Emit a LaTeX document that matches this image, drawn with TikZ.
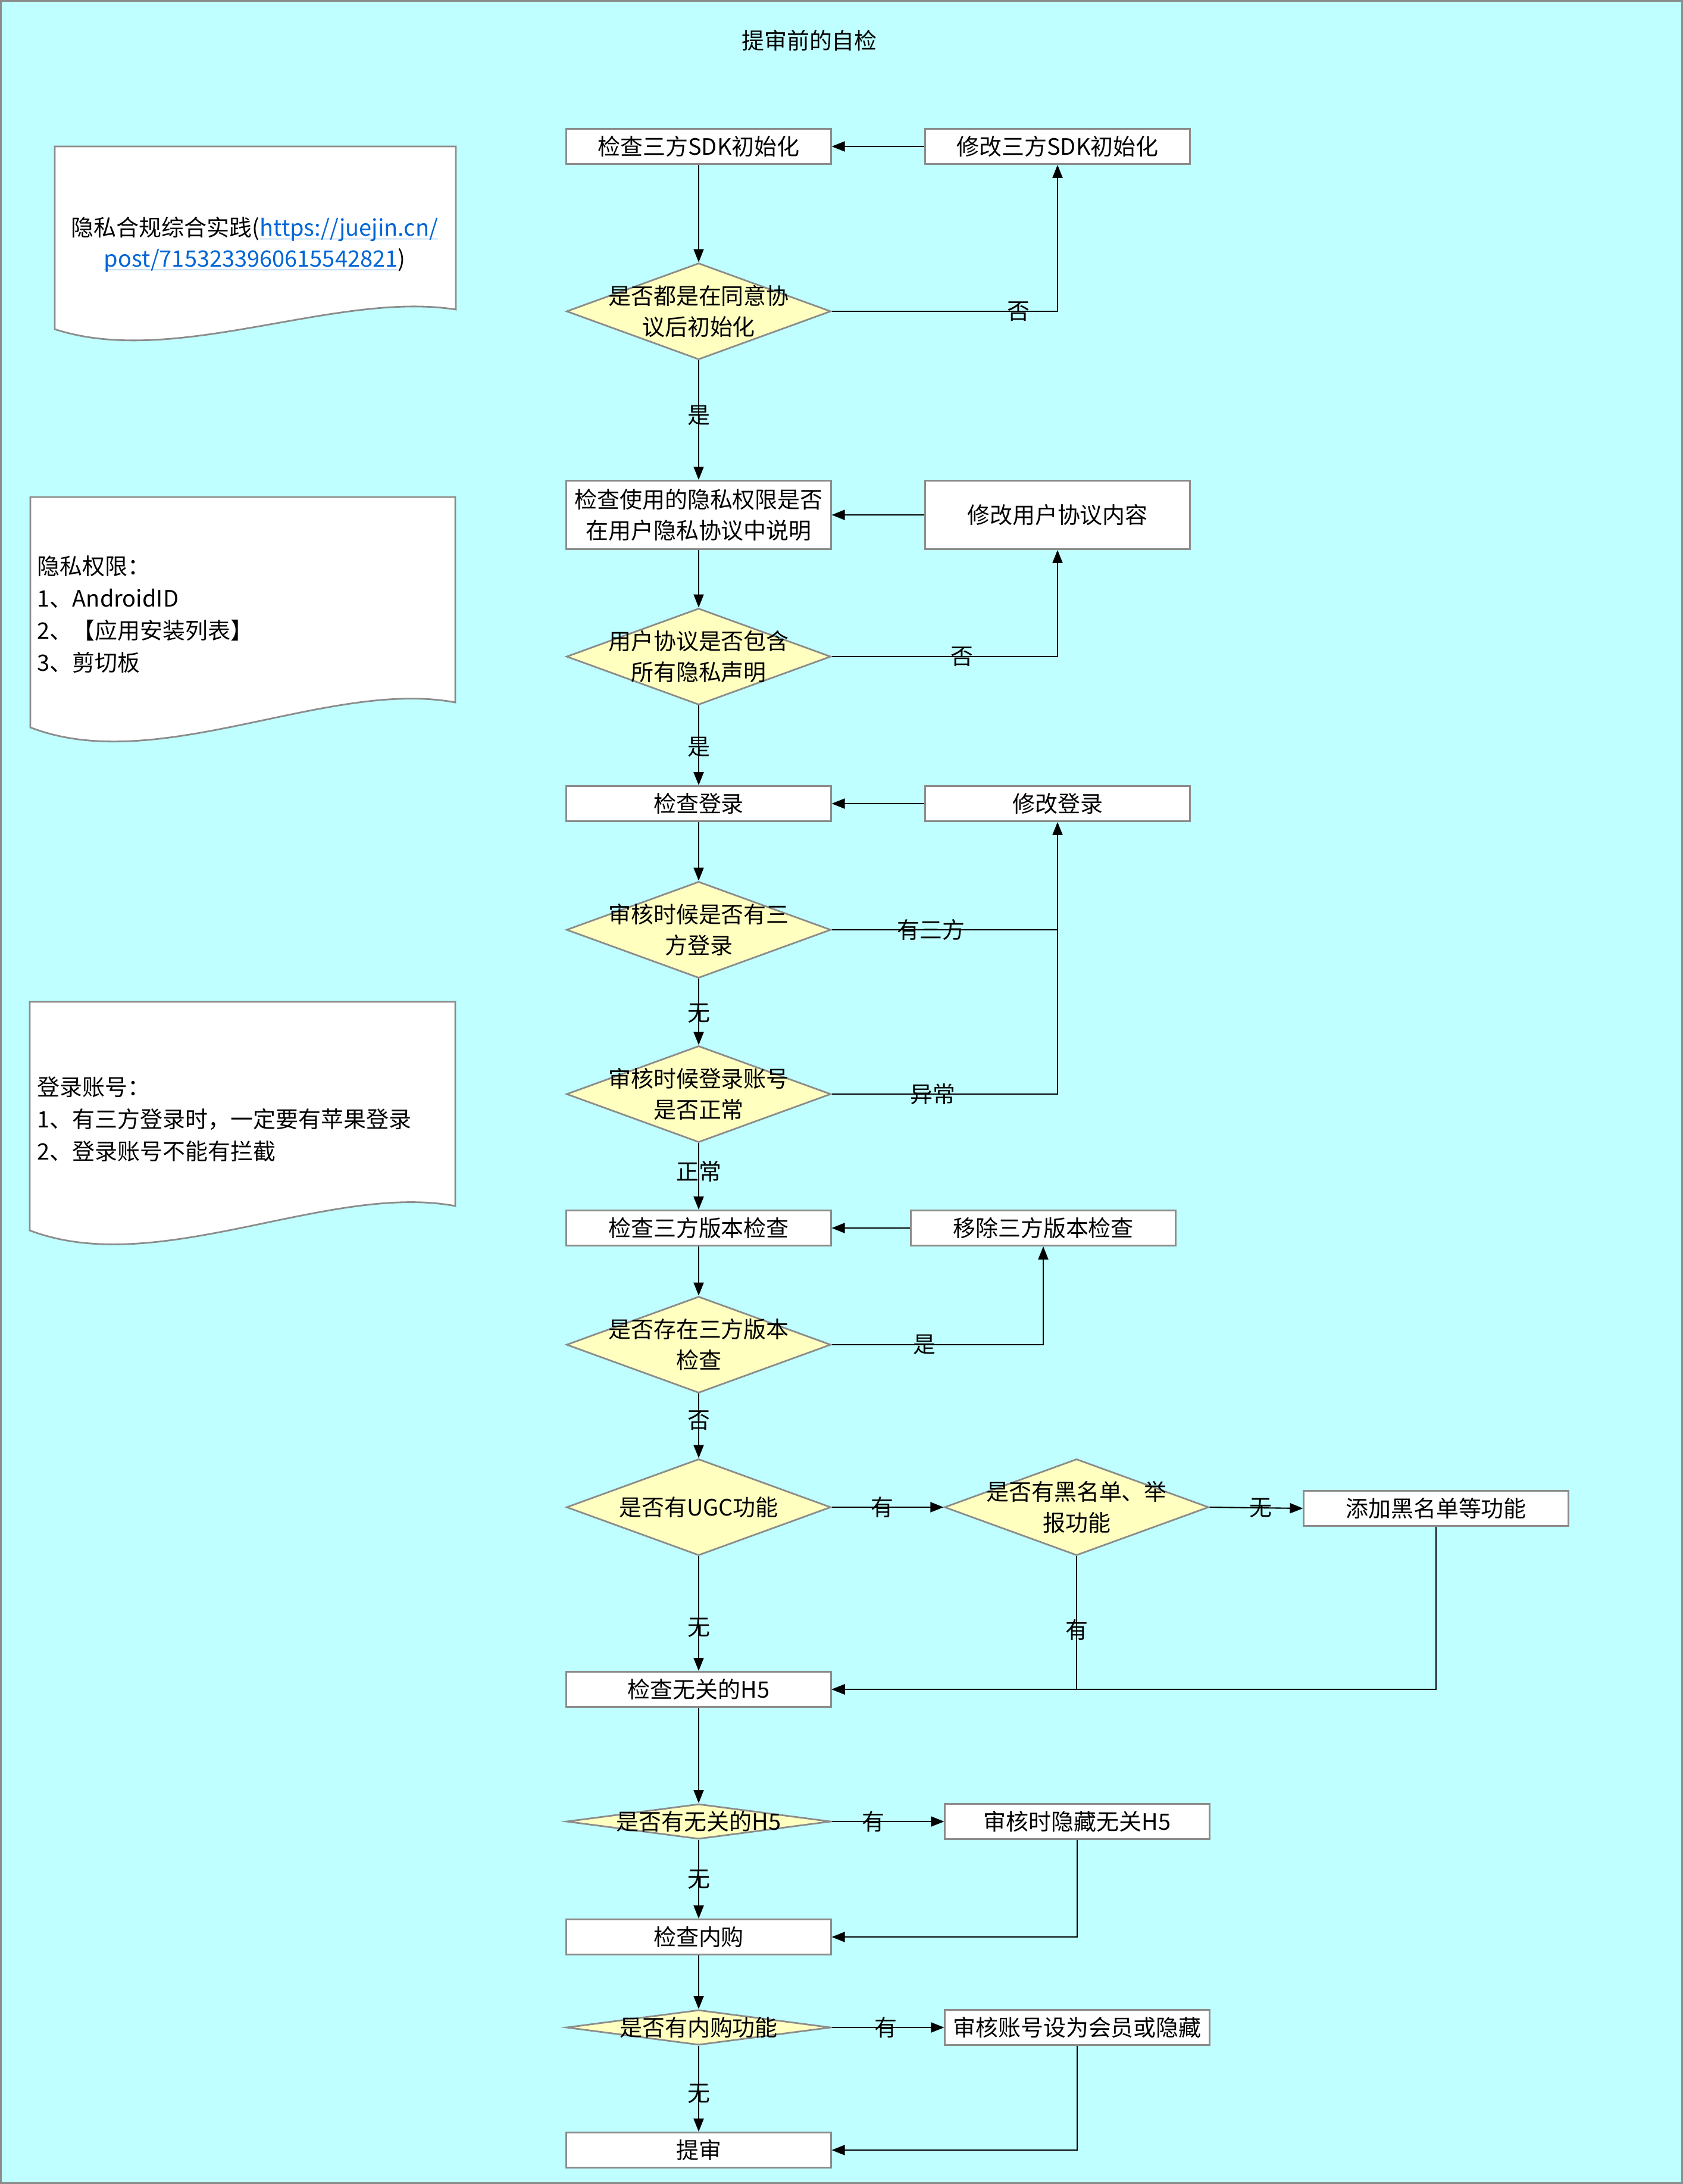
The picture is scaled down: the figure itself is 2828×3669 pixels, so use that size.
\documentclass[tikz,border=0pt]{standalone}
\usepackage{fontspec}
\setmainfont{Noto Sans CJK SC}
\usetikzlibrary{arrows.meta,shapes.geometric}
\definecolor{bgc}{HTML}{C0FFFF}
\definecolor{decc}{HTML}{FFFFC0}
\definecolor{bordc}{HTML}{8C8C8C}
\definecolor{linkc}{RGB}{0,102,214}
\newcommand\dfont{\fontsize{10.8pt}{14.8pt}\selectfont}
\newcommand\linktext[1]{\textcolor{linkc}{\underline{\smash{#1}}}}
\begin{document}
\begin{tikzpicture}[x=0.01cm,y=-0.01cm,
 every node/.style={font=\dfont, inner sep=0pt},
 proc/.style={rectangle, draw=bordc, fill=white, line width=0.8pt, minimum width=4.44cm, minimum height=0.59cm, align=center},
 dec/.style={diamond, draw=bordc, fill=decc, line width=0.8pt, minimum width=4.44cm, minimum height=1.62cm},
 flatdec/.style={dec, minimum height=0.59cm},
 txt/.style={align=center},
 arr/.style={line width=0.6pt, -{Triangle[length=0.22cm,width=0.17cm]}},
 lin/.style={line width=0.6pt},
 notebox/.style={draw=bordc, fill=white, line width=0.8pt}]
\useasboundingbox (0,0) rectangle (2828,3669);
\fill[bgc] (0,0) rectangle (2828,3669);
\draw[bordc, line width=0.03cm] (1.5,1.5) rectangle (2826.5,3667.5);

% title
\node (title) at (1360,68) {提审前的自检};

% notes
\draw[notebox] (92,246) -- (766,246) -- (766,520) .. controls (564,488) and (294,619) .. (92,553) -- cycle;
\node[txt] (n1) at (428,410) {隐私合规综合实践(\linktext{https://juejin.cn/}\\\linktext{post/7153233960615542821})};

\draw[notebox] (51,835) -- (765,835) -- (765,1180) .. controls (551,1140) and (265,1305) .. (51,1222) -- cycle;
\node[align=left, anchor=west, font=\fontsize{10.8pt}{15.3pt}\selectfont] (n2) at (62,1032) {隐私权限：\\1、AndroidID\\2、【应用安装列表】\\3、剪切板};

\draw[notebox] (50,1683) -- (765,1683) -- (765,2026) .. controls (551,1986) and (265,2149) .. (50,2067) -- cycle;
\node[align=left, anchor=west, font=\fontsize{10.8pt}{15.3pt}\selectfont] (n3) at (62,1880) {登录账号：\\1、有三方登录时，一定要有苹果登录\\2、登录账号不能有拦截};

% main column
\node[proc] (b1) at (1174,246) {检查三方SDK初始化};
\node[proc] (r1) at (1777,246) {修改三方SDK初始化};
\node[dec] (d1) at (1174,523) {};
\node[txt] (d1t) at (d1) {是否都是在同意协\\议后初始化};

\node[proc, minimum height=1.15cm] (b2) at (1174,865) {检查使用的隐私权限是否\\在用户隐私协议中说明};
\node[proc, minimum height=1.15cm] (r2) at (1777,865) {修改用户协议内容};
\node[dec] (d2) at (1174,1103) {};
\node[txt] (d2t) at (d2) {用户协议是否包含\\所有隐私声明};

\node[proc] (b3) at (1174,1350) {检查登录};
\node[proc] (r3) at (1777,1350) {修改登录};
\node[dec] (d3) at (1174,1562) {};
\node[txt] (d3t) at (d3) {审核时候是否有三\\方登录};
\node[dec] (d4) at (1174,1838) {};
\node[txt] (d4t) at (d4) {审核时候登录账号\\是否正常};

\node[proc] (b4) at (1174,2063) {检查三方版本检查};
\node[proc] (r4) at (1753,2063) {移除三方版本检查};
\node[dec] (d5) at (1174,2259) {};
\node[txt] (d5t) at (d5) {是否存在三方版本\\检查};

\node[dec] (d6) at (1174,2532) {};
\node[txt] (d6t) at (d6) {是否有UGC功能};
\node[dec] (d7) at (1809,2532) {};
\node[txt] (d7t) at (d7) {是否有黑名单、举\\报功能};
\node[proc] (r5) at (2413,2534) {添加黑名单等功能};

\node[proc] (b5) at (1174,2838) {检查无关的H5};
\node[flatdec] (d8) at (1174,3060) {};
\node[txt] (d8t) at (d8) {是否有无关的H5};
\node[proc] (r6) at (1810,3060) {审核时隐藏无关H5};

\node[proc] (b6) at (1174,3254) {检查内购};
\node[flatdec] (d9) at (1174,3406) {};
\node[txt] (d9t) at (d9) {是否有内购功能};
\node[proc] (r7) at (1810,3406) {审核账号设为会员或隐藏};

\node[proc] (b7) at (1174,3612) {提审};

% connectors
\draw[arr] (r1.west) -- (b1.east);
\draw[arr] (b1.south) -- (d1.north);
\draw[arr] (d1.east) -| node[pos=0.414] (e1) {否} (r1.south);
\draw[arr] (d1.south) -- node[pos=0.46] (e2) {是} (b2.north);
\draw[arr] (r2.west) -- (b2.east);
\draw[arr] (b2.south) -- (d2.north);
\draw[arr] (d2.east) -| node[pos=0.288] (e3) {否} (r2.south);
\draw[arr] (d2.south) -- node[pos=0.52] (e4) {是} (b3.north);
\draw[arr] (r3.west) -- (b3.east);
\draw[arr] (b3.south) -- (d3.north);
\draw[arr] (d3.east) -| node[pos=0.22] (e5) {有三方} (r3.south);
\draw[arr] (d3.south) -- node[pos=0.52] (e6) {无} (d4.north);
\coordinate (j1) at (r3.south |- d3.east);
\draw[lin] (d4.east) -| node[pos=0.224] (e7) {异常} (j1);
\draw[arr] (d4.south) -- node[pos=0.43] (e8) {正常} (b4.north);
\draw[arr] (r4.west) -- (b4.east);
\draw[arr] (b4.south) -- (d5.north);
\draw[arr] (d5.east) -| node[pos=0.22] (e9) {是} (r4.south);
\draw[arr] (d5.south) -- node[pos=0.41] (e10) {否} (d6.north);
\draw[arr] (d6.east) -- node[pos=0.45] (e11) {有} (d7.west);
\draw[arr] (d7.east) -- node[pos=0.55] (e12) {无} (r5.west);
\draw[arr] (d6.south) -- node[pos=0.62] (e13) {无} (b5.north);
\draw[arr] (r5.south) |- (b5.east);
\draw[arr] (d7.south) |- node[pos=0.277] (e14) {有} (b5.east);
\draw[arr] (b5.south) -- (d8.north);
\draw[arr] (d8.east) -- node[pos=0.37] (e15) {有} (r6.west);
\draw[arr] (d8.south) -- node[pos=0.5] (e16) {无} (b6.north);
\draw[arr] (r6.south) |- (b6.east);
\draw[arr] (b6.south) -- (d9.north);
\draw[arr] (d9.east) -- node[pos=0.48] (e17) {有} (r7.west);
\draw[arr] (d9.south) -- node[pos=0.56] (e18) {无} (b7.north);
\draw[arr] (r7.south) |- (b7.east);
\end{tikzpicture}
\end{document}
